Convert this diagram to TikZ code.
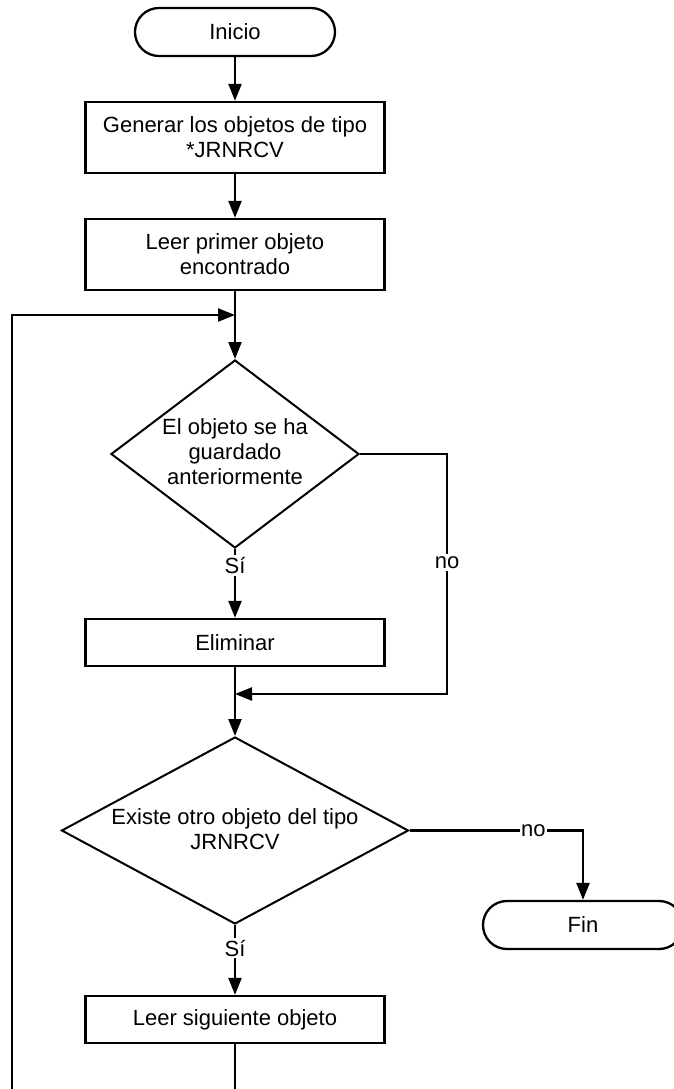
\documentclass[tikz,border=0pt]{standalone}
\usepackage{fontspec}
\setmainfont{Liberation Sans}
\usetikzlibrary{arrows.meta,shapes.geometric}

\tikzset{
  flow/.style={line width=2.3pt, draw=black},
  arrow/.style={flow, -{Triangle[length=17pt,width=13pt]}},
  terminal/.style={draw=black, line width=2.3pt, rectangle, rounded corners=23.9pt,
    minimum width=200pt, minimum height=48pt, inner sep=0pt, fill=white},
  process/.style={draw=black, line width=2.3pt, rectangle, minimum width=299pt,
    inner sep=0pt, align=center, fill=white},
  decision/.style={draw=black, line width=2pt, diamond, inner sep=0pt, fill=white},
  lbl/.style={fill=white, inner sep=2pt, text=black},
  txt/.style={align=center, inner sep=0pt}
}

\begin{document}
\begin{tikzpicture}[x=1pt, y=-1pt, font=\fontsize{22}{25}\selectfont]
\useasboundingbox (0,0) rectangle (674,1089);
\fill[white] (0,0) rectangle (674,1089);

% start / end terminals
\node[terminal] (start) at (235,32) {Inicio};
\node[terminal] (fin) at (583,925) {Fin};

% process steps
\node[process, minimum height=71pt] (gen) at (235,137.5)
  {Generar los objetos de tipo\\*JRNRCV};
\node[process, minimum height=71pt] (first) at (235,254.5)
  {Leer primer objeto\\encontrado};
\node[process, minimum height=47pt] (del) at (235,642.5) {Eliminar};
\node[process, minimum height=47pt] (next) at (235,1019.5) {Leer siguiente objeto};

% decisions
\node[decision, minimum width=248pt, minimum height=188pt] (saved) at (235,454) {};
\node[txt] (savedtxt) at (235,452) {El objeto se ha\\guardado\\anteriormente};
\node[decision, minimum width=347pt, minimum height=187pt] (more) at (235,830.5) {};
\node[txt] (moretxt) at (235,829.5) {Existe otro objeto del tipo\\JRNRCV};

% helper points for the joins
\coordinate (loopin) at (235,315);
\coordinate (loopbot) at (12,1110);
\coordinate (nocorner) at (447,694);
\coordinate (join) at (235,694);

% main flow
\draw[arrow] (start) -- (gen);
\draw[arrow] (gen) -- (first);
\draw[arrow] (first) -- (saved.north);
\draw[arrow] (saved.south) -- node[pos=0.24, lbl] {Sí} (del.north);
\draw[arrow] (saved.east) -| node[pos=0.726, lbl] {no} (nocorner) -- (join);
\draw[arrow] (del.south) -- (more.north);
\draw[arrow] (more.east) -| node[pos=0.357, lbl, inner sep=1pt] {no} (fin.north);
\draw[arrow] (more.south) -- node[pos=0.33, lbl] {Sí} (next.north);

% loop back to the first decision
\draw[arrow] (next.south) |- (loopbot) |- (loopin);
\end{tikzpicture}
\end{document}
